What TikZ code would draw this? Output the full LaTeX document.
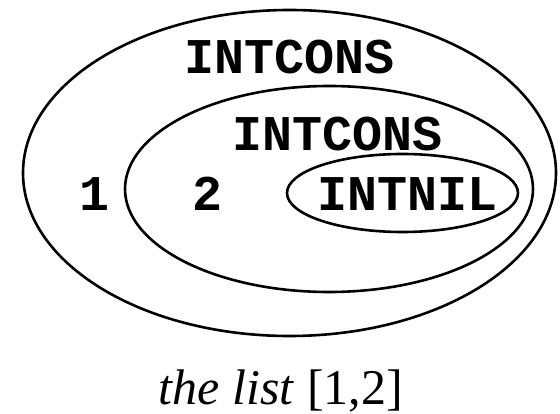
\documentclass[tikz,border=0pt]{standalone}
\usepackage{fontspec}
\setmainfont{Liberation Serif}
\newfontfamily\consfont{Liberation Mono}
\usetikzlibrary{shapes.geometric}

\begin{document}
\begin{tikzpicture}[x=1pt, y=-1pt, line width=2.6pt]
        % Styles
        \tikzstyle{nodoCelda} = [draw, ellipse, inner sep=0pt]
        \tikzstyle{nodoTexto} = [inner sep=0pt, font={\consfont\bfseries\fontsize{50}{50}\selectfont}]

        \useasboundingbox (0,0) rectangle (560,414);

        % Cells
        \node[nodoCelda, minimum width=533, minimum height=326] (consUno) at (289.5,173) {};
        \node[nodoCelda, minimum width=408, minimum height=206] (consDos) at (329,189) {};
        \node[nodoCelda, minimum width=231, minimum height=78] (nilFinal) at (402.5,193) {};

        % Labels
        \node[nodoTexto] (etiqUno) at (290,57) {INTCONS};
        \node[nodoTexto] (etiqDos) at (338,134) {INTCONS};
        \node[nodoTexto] (cabezaUno) at (95,194) {1};
        \node[nodoTexto] (cabezaDos) at (208,194) {2};
        \node[nodoTexto] (etiqNil) at (408,194) {INTNIL};

        % Caption
        \node[inner sep=0pt, anchor=base, font=\fontsize{50}{60}\selectfont] (leyenda) at (281,404) {\textit{the list} [1,2]};
\end{tikzpicture}
\end{document}
